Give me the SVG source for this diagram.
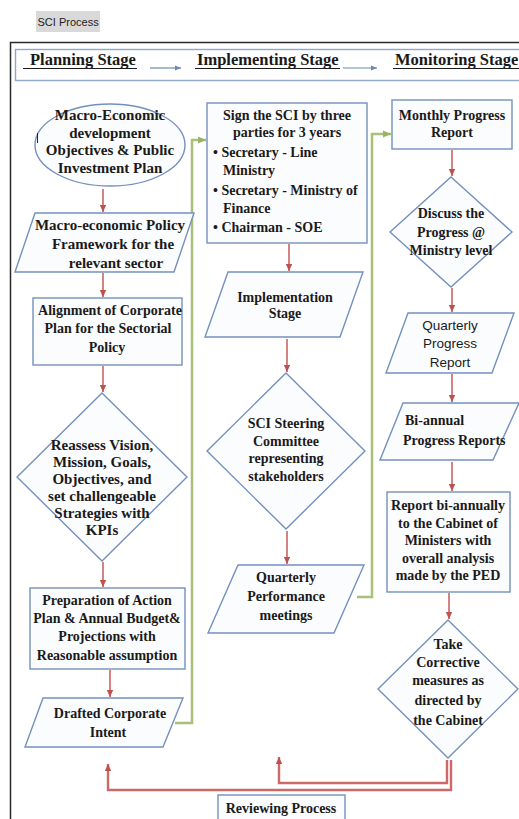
<svg xmlns="http://www.w3.org/2000/svg" width="519" height="819" viewBox="0 0 519 819">
<style>
.bg{fill:#ffffff}
.n{fill:#fbfcfe;stroke:#7490bd;stroke-width:1.4}
.t{font-family:"Liberation Serif","Times New Roman",serif;font-weight:bold;font-size:15px;fill:#1a1a1a;text-anchor:middle}
.t14{font-size:14px}
.tl{text-anchor:start}
.ts{font-family:"Liberation Sans",Arial,sans-serif;font-weight:normal;font-size:13.5px}
.h{font-family:"Liberation Serif","Times New Roman",serif;font-weight:bold;font-size:16.5px;fill:#1a1a1a}
.ul{stroke:#1a1a1a;stroke-width:1}
.ra{stroke:#c0504d;stroke-width:1.4;fill:none;marker-end:url(#ar)}
.ga{stroke:#a8c077;stroke-width:2.5;fill:none}
.rb{stroke:#cd6a67;stroke-width:2.4;fill:none}
.ha{stroke:#6a88b2;stroke-width:1.2;fill:none;marker-end:url(#ah)}
</style>
<defs>
<marker id="ar" markerUnits="userSpaceOnUse" markerWidth="8" markerHeight="8" refX="7" refY="4" orient="auto"><path d="M0,0.8 L7,4 L0,7.2 z" fill="#c0504d"/></marker>
<marker id="ag" markerUnits="userSpaceOnUse" markerWidth="9" markerHeight="9" refX="8" refY="4.5" orient="auto"><path d="M0,1 L8,4.5 L0,8 z" fill="#98b362"/></marker>
<marker id="ah" markerUnits="userSpaceOnUse" markerWidth="7" markerHeight="7" refX="6" refY="3.5" orient="auto"><path d="M0,1 L6,3.5 L0,6 z" fill="#6a88b2"/></marker>
<marker id="rbm" markerUnits="userSpaceOnUse" markerWidth="8" markerHeight="8" refX="7" refY="4" orient="auto"><path d="M0,0.8 L7,4 L0,7.2 z" fill="#c0504d"/></marker>
</defs>
<rect class="bg" x="0" y="0" width="519" height="819"/>

<g id="title">
<rect x="36" y="11" width="64" height="21" fill="#d9d9d9"/>
<text x="37.5" y="25.5" font-family="Liberation Sans,Arial,sans-serif" font-size="11" fill="#222">SCI Process</text>
</g>

<rect x="10.5" y="42.5" width="530" height="800" fill="none" stroke="#2a2a2a" stroke-width="1.5"/>

<g id="header">
<rect x="15.5" y="49.5" width="520" height="31" fill="#ffffff" stroke="#8ea8cc" stroke-width="1.4"/>
<text class="h" x="30" y="65">Planning Stage</text>
<line class="ul" x1="23" y1="68.5" x2="137" y2="68.5"/>
<line class="ha" x1="150" y1="68" x2="181" y2="68"/>
<text class="h" x="197" y="65">Implementing Stage</text>
<line class="ul" x1="195" y1="68.5" x2="340" y2="68.5"/>
<line class="ha" x1="343" y1="68" x2="377" y2="68"/>
<text class="h" x="395" y="65">Monitoring Stage</text>
<line class="ul" x1="393" y1="68.5" x2="519" y2="68.5"/>
</g>

<g id="connectors">
<line class="ra" x1="103" y1="189" x2="103" y2="212"/>
<line class="ra" x1="103" y1="273" x2="103" y2="297"/>
<line class="ra" x1="103" y1="366" x2="103" y2="392"/>
<line class="ra" x1="103" y1="562" x2="103" y2="587"/>
<line class="ra" x1="110" y1="670" x2="110" y2="697"/>
<line class="ra" x1="289" y1="244" x2="289" y2="271"/>
<line class="ra" x1="287" y1="339" x2="287" y2="372"/>
<line class="ra" x1="287" y1="531" x2="287" y2="564"/>
<line class="ra" x1="452" y1="150" x2="452" y2="176"/>
<line class="ra" x1="452" y1="288" x2="452" y2="312"/>
<line class="ra" x1="452" y1="374" x2="452" y2="402"/>
<line class="ra" x1="452" y1="462" x2="452" y2="491"/>
<line class="ra" x1="449" y1="593" x2="449" y2="619"/>
<path class="ga" d="M175,723 H192 V140 H206" marker-end="url(#ag)"/>
<path class="ga" d="M357,597 H372 V134 H391" marker-end="url(#ag)"/>
<path class="rb" d="M447,760 V783 H279 V757" marker-end="url(#rbm)"/>
<path class="rb" d="M451,760 V790 H108 V764" marker-end="url(#rbm)"/>
</g>

<g id="n-macro">
<ellipse class="n" cx="110" cy="145" rx="75" ry="41"/>
<text class="t" x="110" y="120">Macro-Economic</text>
<text class="t" x="110" y="137.5">development</text>
<text class="t" x="110" y="155">Objectives &amp; Public</text>
<text class="t" x="110" y="172.5">Investment Plan</text>
<line x1="37.5" y1="133" x2="37.5" y2="143" stroke="#222" stroke-width="1"/>
</g>

<g id="n-policy">
<polygon class="n" points="35,213 194,213 174,272 15,272"/>
<text class="t" x="110" y="230">Macro-economic Policy</text>
<text class="t" x="113" y="249">Framework for the</text>
<text class="t" x="116" y="268">relevant sector</text>
</g>

<g id="n-align">
<rect class="n" x="33" y="298" width="149" height="67"/>
<text class="t t14" x="110" y="315">Alignment of Corporate</text>
<text class="t t14" x="108" y="333">Plan for the Sectorial</text>
<text class="t t14" x="107" y="352">Policy</text>
</g>

<g id="n-reassess">
<polygon class="n" points="102,393 187,477 102,561 17,477"/>
<text class="t" x="102" y="450">Reassess Vision,</text>
<text class="t" x="102" y="467">Mission, Goals,</text>
<text class="t" x="102" y="484">Objectives, and</text>
<text class="t" x="102" y="501">set challengeable</text>
<text class="t" x="102" y="518">Strategies with</text>
<text class="t" x="102" y="535">KPIs</text>
</g>

<g id="n-prep">
<rect class="n" x="30" y="588" width="155" height="81"/>
<text class="t t14" x="107" y="605">Preparation of Action</text>
<text class="t t14" x="107" y="623">Plan &amp; Annual Budget&amp;</text>
<text class="t t14" x="107" y="641">Projections with</text>
<text class="t t14" x="107" y="660">Reasonable assumption</text>
</g>

<g id="n-drafted">
<polygon class="n" points="43,698 183,698 163,747 25,747"/>
<text class="t t14" x="110" y="718">Drafted Corporate</text>
<text class="t t14" x="108" y="737">Intent</text>
</g>

<g id="n-sign">
<rect class="n" x="207" y="103" width="160" height="140"/>
<text class="t t14" x="287" y="120">Sign the SCI by three</text>
<text class="t t14" x="287" y="137">parties for 3 years</text>
<text class="t t14 tl" x="213" y="157">• Secretary - Line</text>
<text class="t t14 tl" x="223" y="175">Ministry</text>
<text class="t t14 tl" x="213" y="195">• Secretary - Ministry of</text>
<text class="t t14 tl" x="223" y="213">Finance</text>
<text class="t t14 tl" x="213" y="232">• Chairman - SOE</text>
</g>

<g id="n-implementation">
<polygon class="n" points="228,272 363,272 340,337 205,337"/>
<text class="t t14" x="285" y="302">Implementation</text>
<text class="t t14" x="285" y="318">Stage</text>
</g>

<g id="n-steering">
<polygon class="n" points="286,373 365,451 286,529 207,451"/>
<text class="t t14" x="286" y="428">SCI Steering</text>
<text class="t t14" x="286" y="445.5">Committee</text>
<text class="t t14" x="286" y="463">representing</text>
<text class="t t14" x="286" y="481">stakeholders</text>
</g>

<g id="n-quarterly-perf">
<polygon class="n" points="238,565 364,565 334,633 208,633"/>
<text class="t t14" x="286" y="582">Quarterly</text>
<text class="t t14" x="286" y="601">Performance</text>
<text class="t t14" x="286" y="620">meetings</text>
</g>

<g id="n-monthly">
<rect class="n" x="392" y="100" width="120" height="49"/>
<text class="t t14" x="452" y="120">Monthly Progress</text>
<text class="t t14" x="452" y="137">Report</text>
</g>

<g id="n-discuss">
<polygon class="n" points="451,177 512,232 451,287 390,232"/>
<text class="t t14" x="451" y="218">Discuss the</text>
<text class="t t14" x="451" y="237">Progress @</text>
<text class="t t14" x="451" y="255">Ministry level</text>
</g>

<g id="n-quarterly-prog">
<polygon class="n" points="408,313 514,313 492,373 386,373"/>
<text class="t ts" x="450" y="330">Quarterly</text>
<text class="t ts" x="450" y="348">Progress</text>
<text class="t ts" x="450" y="367">Report</text>
</g>

<g id="n-biannual">
<polygon class="n" points="403,403 519,403 493,460 380,460"/>
<text class="t t14 tl" x="405" y="425">Bi-annual</text>
<text class="t t14 tl" x="403" y="445">Progress Reports</text>
</g>

<g id="n-cabinet-report">
<rect class="n" x="387" y="492" width="123" height="100"/>
<text class="t t14" x="448" y="510">Report bi-annually</text>
<text class="t t14" x="448" y="527.5">to the Cabinet of</text>
<text class="t t14" x="448" y="545">Ministers with</text>
<text class="t t14" x="448" y="562.5">overall analysis</text>
<text class="t t14" x="448" y="580">made by the PED</text>
</g>

<g id="n-corrective">
<polygon class="n" points="448,620 518,689 448,758 378,689"/>
<text class="t t14" x="448" y="649">Take</text>
<text class="t t14" x="448" y="667">Corrective</text>
<text class="t t14" x="448" y="685">measures as</text>
<text class="t t14" x="448" y="705">directed by</text>
<text class="t t14" x="448" y="725">the Cabinet</text>
</g>

<g id="n-reviewing">
<rect class="n" x="218" y="795" width="127" height="40"/>
<text class="t t14" x="281" y="813">Reviewing Process</text>
</g>
</svg>
